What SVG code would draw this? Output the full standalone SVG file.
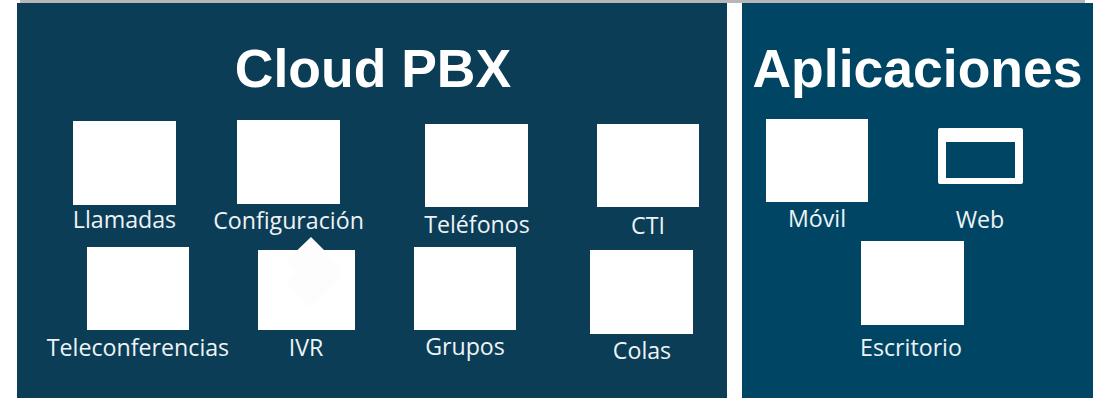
<svg xmlns="http://www.w3.org/2000/svg" width="1102" height="398" viewBox="0 0 1102 398">
<style>
.tile{fill:#fff}
.label{font-family:"Open Sans","Noto Sans",sans-serif;font-size:23.200px;fill:#eef3f6;text-anchor:middle}
.title{font-family:"Liberation Sans",Arial,sans-serif;font-size:53.500px;font-weight:700;fill:#fff;text-anchor:middle}
</style>
<rect width="1102" height="398" fill="#fff"/>
<rect id="top-bar" x="20" y="0" width="1065" height="3" fill="#b7b7b7"/>
<g id="panel-cloud-pbx"><rect x="17" y="3" width="710" height="395" fill="#0b3d56"/><text class="title" x="373" y="87">Cloud PBX</text></g>
<g id="panel-aplicaciones"><rect x="742" y="3" width="351" height="395" fill="#004664"/><text class="title" x="917.500" y="87">Aplicaciones</text></g>
<g id="connectors"></g>
<g id="llamadas"><rect class="tile" x="73" y="121" width="103" height="84"/><text class="label" x="124.500" y="228">Llamadas</text></g>
<g id="configuracion"><rect class="tile" x="237" y="120" width="103" height="84"/><text class="label" x="288.500" y="229">Configuración</text></g>
<g id="telefonos"><rect class="tile" x="425" y="124" width="103" height="83"/><text class="label" x="477" y="233">Teléfonos</text></g>
<g id="cti"><rect class="tile" x="597" y="124" width="102" height="83"/><text class="label" x="648" y="234">CTI</text></g>
<g id="teleconferencias"><rect class="tile" x="87" y="247" width="102" height="83"/><text class="label" x="138" y="356">Teleconferencias</text></g>
<g id="ivr"><rect class="tile" x="258" y="250" width="97" height="80"/><path d="M311 237L341 267L336 272L341 278L311 308L287 283L295 272L287 260Z" fill="#fdfdfd"/><text class="label" x="306" y="356">IVR</text></g>
<g id="grupos"><rect class="tile" x="414" y="247" width="102" height="83"/><text class="label" x="465" y="355">Grupos</text></g>
<g id="colas"><rect class="tile" x="590" y="250" width="103" height="84"/><text class="label" x="642" y="359">Colas</text></g>
<g id="movil"><rect class="tile" x="766" y="119" width="102" height="83"/><text class="label" x="817" y="227">Móvil</text></g>
<g id="web"><path d="M940 128H1021a2 2 0 0 1 2 2V182a2 2 0 0 1-2 2H940a2 2 0 0 1-2-2V130a2 2 0 0 1 2-2ZM946 142V178H1015V142Z" fill="#fff" fill-rule="evenodd"/><text class="label" x="980" y="228">Web</text></g>
<g id="escritorio"><rect class="tile" x="861" y="241" width="103" height="84"/><text class="label" x="911" y="356">Escritorio</text></g>
</svg>
